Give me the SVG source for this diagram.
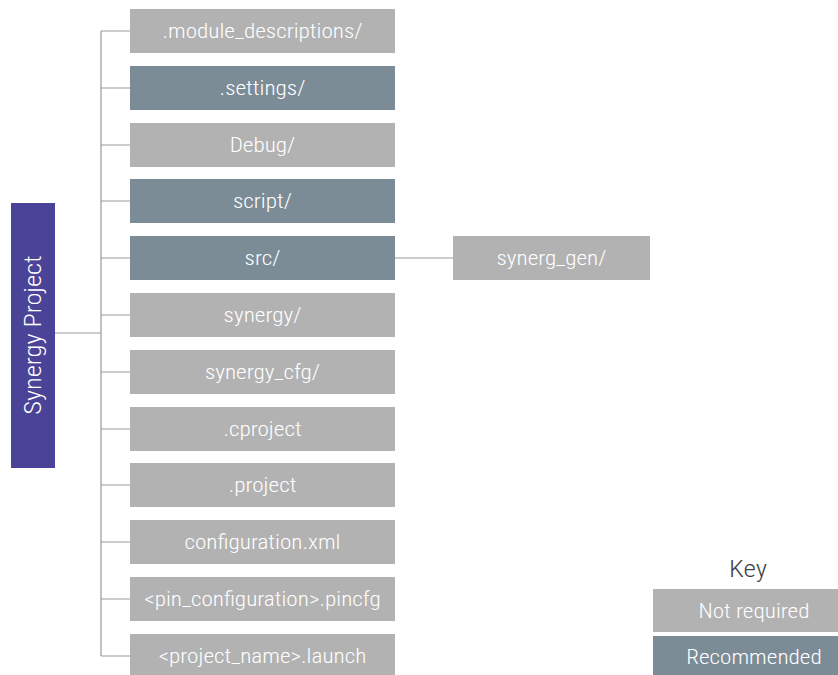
<svg xmlns="http://www.w3.org/2000/svg" width="838" height="675" viewBox="0 0 838 675">
<style>
.g{fill:#b2b2b2}
.b{fill:#7b8c97}
.t{font-family:"Roboto Condensed","Liberation Sans Narrow",sans-serif;font-size:20.5px;font-weight:300;fill:#ffffff;text-anchor:middle}
.c{stroke:#999999;stroke-width:1.2;fill:none}
</style>
<rect width="838" height="675" fill="#ffffff"/>
<g id="connectors">
<path class="c" d="M101 31V656M55 333H101M101 31H130M101 88H130M101 145H130M101 201H130M101 258H130M101 315H130M101 372H130M101 429H130M101 485H130M101 542H130M101 599H130M101 656H130M395 258H453"/>
</g>
<g id="root"><rect x="11" y="203" width="44" height="265" fill="#4a4397"/><text class="t" transform="translate(41 335) rotate(-90) scale(1.15 1)" style="font-size:23px">Synergy Project</text></g>
<g id="nodes">
<g id="n1"><rect class="g" x="130" y="9" width="265" height="44"/><text class="t" transform="translate(262.5 38) scale(1.13 1)">.module_descriptions/</text></g>
<g id="n2"><rect class="b" x="130" y="66" width="265" height="44"/><text class="t" transform="translate(262.5 95) scale(1.13 1)">.settings/</text></g>
<g id="n3"><rect class="g" x="130" y="123" width="265" height="44"/><text class="t" transform="translate(262.5 152) scale(1.13 1)">Debug/</text></g>
<g id="n4"><rect class="b" x="130" y="179" width="265" height="44"/><text class="t" transform="translate(262.5 208) scale(1.13 1)">script/</text></g>
<g id="n5"><rect class="b" x="130" y="236" width="265" height="44"/><text class="t" transform="translate(262.5 265) scale(1.13 1)">src/</text></g>
<g id="n6"><rect class="g" x="130" y="293" width="265" height="44"/><text class="t" transform="translate(262.5 322) scale(1.13 1)">synergy/</text></g>
<g id="n7"><rect class="g" x="130" y="350" width="265" height="44"/><text class="t" transform="translate(262.5 379) scale(1.13 1)">synergy_cfg/</text></g>
<g id="n8"><rect class="g" x="130" y="407" width="265" height="44"/><text class="t" transform="translate(262.5 436) scale(1.13 1)">.cproject</text></g>
<g id="n9"><rect class="g" x="130" y="463" width="265" height="44"/><text class="t" transform="translate(262.5 492) scale(1.13 1)">.project</text></g>
<g id="n10"><rect class="g" x="130" y="520" width="265" height="44"/><text class="t" transform="translate(262.5 549) scale(1.13 1)">configuration.xml</text></g>
<g id="n11"><rect class="g" x="130" y="577" width="265" height="44"/><text class="t" transform="translate(262.5 606) scale(1.13 1)">&lt;pin_configuration&gt;.pincfg</text></g>
<g id="n12"><rect class="g" x="130" y="634" width="265" height="44"/><text class="t" transform="translate(262.5 663) scale(1.13 1)">&lt;project_name&gt;.launch</text></g>
<g id="n13"><rect class="g" x="453" y="236" width="197" height="44"/><text class="t" transform="translate(551.5 265) scale(1.13 1)">synerg_gen/</text></g>
</g>
<g id="key">
<text class="t" transform="translate(748 577) scale(1.13 1)" style="font-size:24px;fill:#444444">Key</text>
<rect class="g" x="653" y="589" width="185" height="43"/><text class="t" transform="translate(754 618) scale(1.13 1)">Not required</text>
<rect class="b" x="653" y="636" width="185" height="39"/><text class="t" transform="translate(754 664) scale(1.13 1)">Recommended</text>
</g>
</svg>
